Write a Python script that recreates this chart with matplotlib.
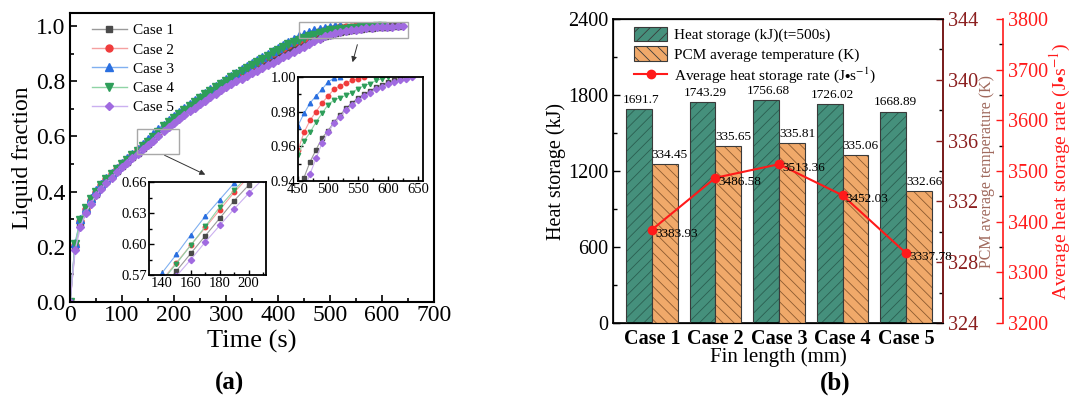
import numpy as np
import matplotlib
matplotlib.use("Agg")
from matplotlib import pyplot as plt
from matplotlib.patches import Rectangle
from matplotlib.ticker import MultipleLocator

plt.rcParams['font.family'] = ['Liberation Serif', 'DejaVu Serif']
plt.rcParams['mathtext.fontset'] = 'stix'
plt.rcParams['hatch.linewidth'] = 0.6

# ---------------- data: panel (a) liquid fraction, sampled every 10 s
dt = 10
case1 = [0.000, 0.200, 0.285, 0.330, 0.364, 0.393, 0.417, 0.438, 0.457, 0.475,
         0.493, 0.509, 0.525, 0.541, 0.557, 0.574, 0.591, 0.608, 0.625, 0.642,
         0.657, 0.671, 0.685, 0.699, 0.713, 0.726, 0.739, 0.752, 0.765, 0.777,
         0.789, 0.801, 0.812, 0.823, 0.834, 0.845, 0.856, 0.866, 0.876, 0.885,
         0.893, 0.901, 0.909, 0.918, 0.926, 0.934, 0.942, 0.951, 0.958, 0.9648,
         0.969, 0.974, 0.978, 0.982, 0.985, 0.988, 0.990, 0.992, 0.994, 0.9955,
         0.997, 0.998, 0.9993, 1.000]
case2 = [0.000, 0.208, 0.294, 0.337, 0.371, 0.399, 0.423, 0.444, 0.463, 0.481,
         0.498, 0.515, 0.532, 0.549, 0.565, 0.582, 0.599, 0.616, 0.633, 0.650,
         0.665, 0.680, 0.694, 0.708, 0.722, 0.735, 0.748, 0.761, 0.774, 0.787,
         0.799, 0.811, 0.823, 0.835, 0.847, 0.858, 0.869, 0.880, 0.891, 0.902,
         0.912, 0.922, 0.932, 0.941, 0.950, 0.958, 0.968, 0.975, 0.980, 0.985,
         0.989, 0.993, 0.995, 0.9966, 0.998, 0.999, 1.000]
case3 = [0.000, 0.215, 0.300, 0.342, 0.376, 0.404, 0.428, 0.449, 0.468, 0.486,
         0.503, 0.520, 0.537, 0.554, 0.572, 0.590, 0.609, 0.627, 0.643, 0.659,
         0.674, 0.689, 0.703, 0.717, 0.731, 0.744, 0.757, 0.770, 0.783, 0.795,
         0.807, 0.819, 0.831, 0.843, 0.854, 0.865, 0.876, 0.887, 0.898, 0.909,
         0.920, 0.931, 0.941, 0.952, 0.962, 0.972, 0.979, 0.985, 0.989, 0.993,
         0.997, 0.9995, 1.000]
case4 = [0.000, 0.210, 0.296, 0.339, 0.373, 0.400, 0.424, 0.445, 0.464, 0.482,
         0.499, 0.516, 0.532, 0.548, 0.564, 0.581, 0.599, 0.617, 0.636, 0.652,
         0.667, 0.682, 0.697, 0.711, 0.725, 0.739, 0.752, 0.765, 0.778, 0.790,
         0.802, 0.814, 0.826, 0.838, 0.849, 0.860, 0.871, 0.882, 0.893, 0.904,
         0.914, 0.924, 0.934, 0.942, 0.949, 0.955, 0.963, 0.968, 0.974, 0.979,
         0.984, 0.9867, 0.988, 0.9895, 0.991, 0.9933, 0.995, 0.9962, 0.998, 0.999,
         1.000]
case5 = [0.000, 0.190, 0.272, 0.322, 0.356, 0.386, 0.410, 0.431, 0.451, 0.470,
         0.488, 0.505, 0.521, 0.537, 0.553, 0.569, 0.585, 0.602, 0.618, 0.634,
         0.649, 0.663, 0.677, 0.691, 0.704, 0.717, 0.730, 0.743, 0.755, 0.767,
         0.779, 0.789, 0.799, 0.809, 0.819, 0.829, 0.838, 0.848, 0.858, 0.867,
         0.877, 0.887, 0.896, 0.906, 0.916, 0.925, 0.935, 0.944, 0.953, 0.962,
         0.968, 0.9733, 0.977, 0.981, 0.984, 0.9865, 0.989, 0.991, 0.993, 0.9945,
         0.996, 0.997, 0.998, 0.999, 1.000]

case_labels = ["Case 1", "Case 2", "Case 3", "Case 4", "Case 5"]
series = [case1, case2, case3, case4, case5]
markers = ["s", "o", "^", "v", "D"]
mcolors = ["#4a4a4a", "#f03c3c", "#2a6fe0", "#2e9e5a", "#a06ae0"]
lcolors = ["#9a9a9a", "#f5a0a0", "#80b0f0", "#8fd4a5", "#cbb0f0"]
msizes = [4.5, 5, 5.5, 5.5, 4.5]

# ---------------- data: panel (b)
cases_b = ["Case 1", "Case 2", "Case 3", "Case 4", "Case 5"]
heat_storage = [1691.7, 1743.29, 1756.68, 1726.02, 1668.89]
pcm_temp = [334.45, 335.65, 335.81, 335.06, 332.66]
storage_rate = [3383.93, 3486.58, 3513.36, 3452.03, 3337.78]

W, H = 1083, 397
fig = plt.figure(figsize=(W / 100, H / 100), dpi=100)

def px_axes(x0, y0, x1, y1):
    return fig.add_axes([x0 / W, 1 - y1 / H, (x1 - x0) / W, (y1 - y0) / H])

def style_ticks(ax, size, length=4, width=1.0):
    ax.tick_params(which='both', direction='in', labelsize=size, width=width)
    ax.tick_params(which='major', length=length)
    ax.tick_params(which='minor', length=length * 0.55)

# ================= panel (a)
ax = px_axes(70, 13, 434, 302)
for y, lab, m, mc, lc, ms in zip(series, case_labels, markers, mcolors, lcolors, msizes):
    t = np.arange(len(y)) * dt
    ax.plot(t, y, color=lc, lw=1.0, marker=m, ms=ms, mfc=mc, mec=mc, label=lab)
ax.set_xlim(0, 700)
ax.set_ylim(0, 1.047)
ax.xaxis.set_major_locator(MultipleLocator(100))
ax.xaxis.set_minor_locator(MultipleLocator(50))
ax.yaxis.set_major_locator(MultipleLocator(0.2))
ax.yaxis.set_minor_locator(MultipleLocator(0.1))
ax.yaxis.set_major_formatter(plt.FormatStrFormatter('%.1f'))
style_ticks(ax, 17, length=5, width=1.2)
ax.tick_params(axis='x', pad=2)
for s in ax.spines.values():
    s.set_linewidth(1.5)
ax.set_xlabel("Time (s)", fontsize=19)
ax.xaxis.set_label_coords(0.5, -0.095)
ax.set_ylabel("Liquid fraction", fontsize=17, labelpad=2)
ax.legend(loc='upper left', bbox_to_anchor=(0.03, 1.0), frameon=False, fontsize=11,
          handlelength=2.3, labelspacing=0.36, borderaxespad=0.3, handletextpad=0.4)

ax.add_patch(Rectangle((128, 0.536), 82, 0.091, fill=False, ec='#a8a8a8', lw=1.0, zorder=5))
ax.add_patch(Rectangle((440, 0.958), 210, 0.055, fill=False, ec='#a8a8a8', lw=1.0, zorder=5))
ax.annotate("", xy=(265, 0.457), xytext=(177, 0.536),
            arrowprops=dict(arrowstyle='-|>', color='#333333', lw=0.7, mutation_scale=8))
ax.annotate("", xy=(542, 0.859), xytext=(554, 0.942),
            arrowprops=dict(arrowstyle='-|>', color='#333333', lw=0.7, mutation_scale=8))

def inset(x0, y0, x1, y1, xlim, ylim, xmaj, xmin, ymaj, ymin, fmt):
    a = px_axes(x0, y0, x1, y1)
    for y, m, mc, lc in zip(series, markers, mcolors, lcolors):
        t = np.arange(len(y)) * dt
        a.plot(t, y, color=lc, lw=0.8, marker=m, ms=3.2, mfc=mc, mec=mc)
    a.set_xlim(*xlim)
    a.set_ylim(*ylim)
    a.xaxis.set_major_locator(MultipleLocator(xmaj))
    a.xaxis.set_minor_locator(MultipleLocator(xmin))
    a.yaxis.set_major_locator(MultipleLocator(ymaj))
    a.yaxis.set_minor_locator(MultipleLocator(ymin))
    a.yaxis.set_major_formatter(plt.FormatStrFormatter(fmt))
    style_ticks(a, 10.5, length=3.5, width=1.0)
    a.tick_params(axis='both', pad=1.5)
    for s in a.spines.values():
        s.set_linewidth(1.3)
    return a

inset(149, 182, 266, 275, (131, 212), (0.57, 0.66), 20, 10, 0.03, 0.015, '%.2f')
inset(298, 77, 423, 181, (450, 658), (0.94, 1.0), 50, 25, 0.02, 0.01, '%.2f')

fig.text(230 / W, 1 - 383 / H, "(a)", fontsize=18, fontweight='bold', ha='center', va='center')

# ================= panel (b)
bx = px_axes(613, 19, 943, 323)
x = np.arange(len(cases_b))
bw = 0.405
green, green_h = "#45907c", "#2b5f51"
orange, orange_h = "#f0a96a", "#8c5a30"

bx.bar(x - bw / 2, heat_storage, bw, color=green, edgecolor=green_h, hatch='///', lw=0, zorder=2)
bx.bar(x - bw / 2, heat_storage, bw, fill=False, edgecolor='#3a3a3a', lw=0.8, zorder=3)
bx.set_ylim(0, 2400)
bx.set_xlim(-0.61, 4.58)
bx.yaxis.set_major_locator(MultipleLocator(600))
bx.yaxis.set_minor_locator(MultipleLocator(300))
bx.set_xticks(x)
bx.set_xticklabels(cases_b, fontsize=13, fontweight='bold')
style_ticks(bx, 14.5, length=5)
bx.tick_params(axis='x', length=0, pad=4)
bx.set_ylabel("Heat storage (kJ)", fontsize=14.5, labelpad=1)
bx.set_xlabel("Fin length (mm)", fontsize=15, labelpad=-1)
for s in bx.spines.values():
    s.set_linewidth(1.2)
for xi, v in zip(x, heat_storage):
    bx.text(xi - bw / 2 + 0.04, v + 25, f"{v:g}", fontsize=9.5, ha='center', va='bottom')

tx = bx.twinx()
tx.bar(x + bw / 2, pcm_temp, bw, color=orange, edgecolor=orange_h, hatch='\\\\\\', lw=0, zorder=2)
tx.bar(x + bw / 2, pcm_temp, bw, fill=False, edgecolor='#3a3a3a', lw=0.8, zorder=3)
tx.set_ylim(324, 344)
tx.yaxis.set_major_locator(MultipleLocator(4))
tx.yaxis.set_minor_locator(MultipleLocator(2))
style_ticks(tx, 14.5, length=5)
dark_red = "#8b1f1f"
tx.spines['right'].set_color(dark_red)
tx.spines['right'].set_linewidth(1.2)
tx.tick_params(axis='y', colors=dark_red, labelcolor=dark_red)
tx.set_ylabel("PCM average temperature (K)", fontsize=11.5, color="#a06a5e", labelpad=1)
for xi, v in zip(x, pcm_temp):
    tx.text(xi, v + 0.2, f"{v:.2f}", fontsize=9.5, ha='left', va='bottom')

rx = bx.twinx()
rx.spines['right'].set_position(('axes', 1.182))
rx.spines['right'].set_color('#ff1a1a')
rx.spines['right'].set_linewidth(1.2)
ln, = rx.plot(x, storage_rate, color='#ff1a1a', lw=1.5, marker='o', ms=6, zorder=6)
rx.set_ylim(3200, 3800)
rx.yaxis.set_major_locator(MultipleLocator(100))
rx.yaxis.set_minor_locator(MultipleLocator(50))
style_ticks(rx, 14.5, length=5)
rx.tick_params(axis='y', colors='#ff1a1a', labelcolor='#ff1a1a')
rx.set_ylabel("Average heat storage rate (J$\\bullet$s$^{-1}$)", fontsize=14, color='#ff1a1a', labelpad=0)
for xi, v in zip(x, storage_rate):
    rx.text(xi + 0.05, v - 8, f"{v:.2f}", fontsize=9.5, ha='left', va='center', zorder=7)

h1 = Rectangle((0, 0), 1, 1, facecolor=green, edgecolor='#3a3a3a', hatch='///', lw=0.8)
h2 = Rectangle((0, 0), 1, 1, facecolor=orange, edgecolor='#3a3a3a', hatch='\\\\\\', lw=0.8)
rx.legend([h1, h2, ln],
          ["Heat storage (kJ)(t=500s)", "PCM average temperature (K)",
           "Average heat storage rate (J$\\bullet$s$^{-1}$)"],
          loc='upper left', bbox_to_anchor=(0.04, 1.0), frameon=False, fontsize=11,
          handlelength=2.2, handleheight=1.1, labelspacing=0.25, handletextpad=0.4,
          borderaxespad=0.1)

fig.text(835 / W, 1 - 383 / H, "(b)", fontsize=18, fontweight='bold', ha='center', va='center')

fig.savefig("out.png", dpi=100)
